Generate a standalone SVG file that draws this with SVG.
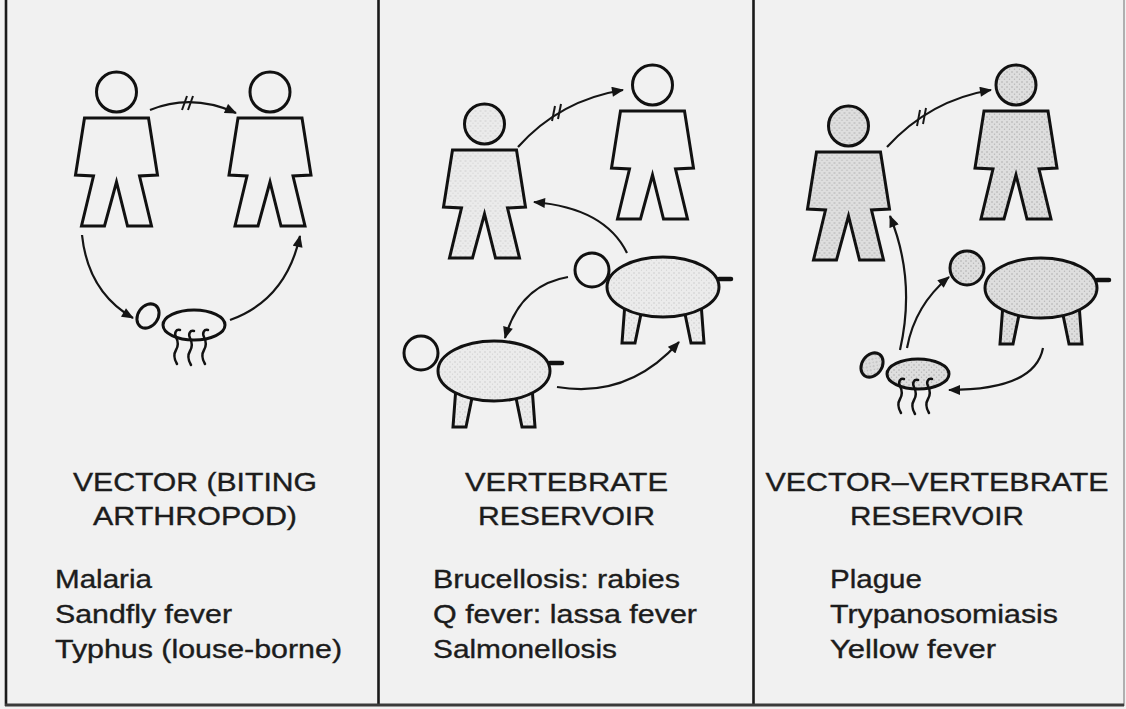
<svg xmlns="http://www.w3.org/2000/svg" xmlns:xlink="http://www.w3.org/1999/xlink" width="1126" height="709" viewBox="0 0 1126 709">
  <defs>
    <style>
      .fig { stroke: #111; stroke-width: 3; stroke-linejoin: miter; }
      .leg { fill: none; stroke: #111; stroke-width: 2.5; stroke-linecap: round; }
      .arrow { fill: none; stroke: #151515; stroke-width: 2.2; marker-end: url(#head); }
      .tick { stroke: #151515; stroke-width: 2; }
      .frame { stroke: #1a1a1a; stroke-width: 2.6; }
      .title { font-family: "Liberation Sans", Arial, Helvetica, sans-serif; font-size: 25px; fill: #1c1c1c; stroke: #1c1c1c; stroke-width: 0.35; text-anchor: middle; }
      .item { font-family: "Liberation Sans", Arial, Helvetica, sans-serif; font-size: 25px; fill: #1c1c1c; stroke: #1c1c1c; stroke-width: 0.35; }
    </style>
    <marker id="head" viewBox="0 0 12 10" refX="11" refY="5" markerWidth="13" markerHeight="10" markerUnits="userSpaceOnUse" orient="auto">
      <path d="M0,0 L12,5 L0,10 Z" fill="#151515"/>
    </marker>
    <!-- light and heavy stipple used for the shaded figures -->
    <pattern id="dotsLight" width="5" height="5" patternUnits="userSpaceOnUse">
      <rect width="5" height="5" fill="#ebebeb"/>
      <circle cx="1" cy="1" r="0.7" fill="#c4c4c4"/>
      <circle cx="3.5" cy="3.2" r="0.6" fill="#d2d2d2"/>
    </pattern>
    <pattern id="dotsHeavy" width="5" height="5" patternUnits="userSpaceOnUse">
      <rect width="5" height="5" fill="#dedede"/>
      <circle cx="1" cy="1" r="0.8" fill="#acacac"/>
      <circle cx="3.5" cy="3.3" r="0.7" fill="#b8b8b8"/>
    </pattern>
    <!-- human silhouette, origin at centre of shoulder line -->
    <g id="person" class="fig">
      <circle cx="0" cy="-26" r="20"/>
      <path d="M-32,0 L32,0 L41,57 L23,58 L35,108 L11,108 L0,64 L-12,108 L-35,108 L-23,58 L-41,57 Z"/>
    </g>
    <!-- four-legged animal body, origin at centre of the body -->
    <g id="animal" class="fig">
      <path d="M-38,16 L-41,56 L-28,56 L-21,22 Z"/>
      <path d="M21,22 L28,56 L41,56 L38,16 Z"/>
      <path d="M56,-8 L68,-8" stroke-width="4.5" stroke-linecap="round"/>
      <ellipse cx="0" cy="0" rx="56" ry="30"/>
    </g>
    <!-- biting arthropod, origin at centre of the body -->
    <g id="bug">
      <ellipse class="fig" cx="0" cy="0" rx="31" ry="15" stroke-width="2.6"/>
      <ellipse class="fig" cx="-46" cy="-9" rx="10" ry="13" stroke-width="2.6" transform="rotate(35 -46 -9)"/>
      <path class="leg" d="M-14,5 c-4,-1 -6,3 -4,7 c2,4 3,8 0,13 c-3,5 -2,9 1,14"/>
      <path class="leg" d="M0,6 c-4,-1 -6,3 -4,7 c2,4 3,8 0,13 c-3,5 -2,9 1,14"/>
      <path class="leg" d="M14,5 c-4,-1 -6,3 -4,7 c2,4 3,8 0,13 c-3,5 -2,9 1,14"/>
    </g>
  </defs>

  <!-- paper -->
  <rect x="0" y="0" width="1126" height="709" fill="#f1f1f1"/>

  <!-- panel frame -->
  <g id="frame">
    <line class="frame" x1="6" y1="0" x2="6" y2="706"/>
    <line class="frame" x1="378.5" y1="0" x2="378.5" y2="706"/>
    <line class="frame" x1="753.5" y1="0" x2="753.5" y2="706"/>
    <line x1="1124" y1="0" x2="1124" y2="706" stroke="#9a9a9a" stroke-width="1.5"/>
    <line x1="5" y1="705" x2="1124" y2="705" stroke="#3a3a3a" stroke-width="3"/>
  </g>

  <!-- panel 1: vector (biting arthropod) -->
  <g id="p1-human-a"><use xlink:href="#person" x="116.5" y="118" fill="#f1f1f1"/></g>
  <g id="p1-human-b"><use xlink:href="#person" x="270" y="118" fill="#f1f1f1"/></g>
  <g id="p1-arthropod"><use xlink:href="#bug" x="194" y="325" fill="#f1f1f1"/></g>

  <!-- panel 2: vertebrate reservoir -->
  <g id="p2-human-a"><use xlink:href="#person" x="484.5" y="150" fill="url(#dotsLight)"/></g>
  <g id="p2-human-b"><use xlink:href="#person" x="652.5" y="111" fill="#f1f1f1"/></g>
  <g id="p2-animal-a">
    <circle class="fig" cx="592" cy="270" r="17" fill="#f1f1f1"/>
    <use xlink:href="#animal" x="663" y="287" fill="url(#dotsLight)"/>
  </g>
  <g id="p2-animal-b">
    <circle class="fig" cx="421" cy="353" r="17" fill="#f1f1f1"/>
    <use xlink:href="#animal" x="494" y="371" fill="url(#dotsLight)"/>
  </g>

  <!-- panel 3: vector-vertebrate reservoir -->
  <g id="p3-human-a"><use xlink:href="#person" x="848.5" y="152" fill="url(#dotsHeavy)"/></g>
  <g id="p3-human-b"><use xlink:href="#person" x="1016" y="111" fill="url(#dotsHeavy)"/></g>
  <g id="p3-animal">
    <circle class="fig" cx="967" cy="268" r="17" fill="url(#dotsHeavy)"/>
    <use xlink:href="#animal" x="1041" y="288" fill="url(#dotsHeavy)"/>
  </g>
  <g id="p3-arthropod"><use xlink:href="#bug" x="918" y="374" fill="url(#dotsHeavy)"/></g>

  <!-- transmission routes -->
  <g id="connectors">
    <path class="arrow" d="M150,110 Q192,93 236,113"/>
    <line class="tick" x1="182" y1="110" x2="187" y2="96"/>
    <line class="tick" x1="188" y1="110" x2="193" y2="96"/>
    <path class="arrow" d="M82,235 Q88,292 133,318"/>
    <path class="arrow" d="M230,320 Q286,300 300,236"/>

    <path class="arrow" d="M518,147 Q560,100 623,90"/>
    <line class="tick" x1="552" y1="121" x2="555" y2="106"/>
    <line class="tick" x1="558" y1="119" x2="561" y2="104"/>
    <path class="arrow" d="M627,253 Q605,208 534,202"/>
    <path class="arrow" d="M568,277 Q520,285 505,338"/>
    <path class="arrow" d="M557,387 Q628,399 679,342"/>

    <path class="arrow" d="M887,147 Q930,100 991,90"/>
    <line class="tick" x1="917" y1="126" x2="920" y2="110"/>
    <line class="tick" x1="923" y1="124" x2="926" y2="108"/>
    <path class="arrow" d="M900,350 Q916,280 890,216"/>
    <path class="arrow" d="M907,348 Q915,305 949,277"/>
    <path class="arrow" d="M1043,348 Q1035,390 949,390"/>
  </g>

  <!-- captions -->
  <g id="labels">
    <text class="title" x="195" y="491" textLength="244" lengthAdjust="spacingAndGlyphs">VECTOR (BITING</text>
    <text class="title" x="195" y="525" textLength="204" lengthAdjust="spacingAndGlyphs">ARTHROPOD)</text>
    <text class="item" x="55" y="588" textLength="97" lengthAdjust="spacingAndGlyphs">Malaria</text>
    <text class="item" x="55" y="623" textLength="177" lengthAdjust="spacingAndGlyphs">Sandfly fever</text>
    <text class="item" x="55" y="658" textLength="287" lengthAdjust="spacingAndGlyphs">Typhus (louse-borne)</text>

    <text class="title" x="566.5" y="491" textLength="203" lengthAdjust="spacingAndGlyphs">VERTEBRATE</text>
    <text class="title" x="566.5" y="525" textLength="177" lengthAdjust="spacingAndGlyphs">RESERVOIR</text>
    <text class="item" x="433" y="588" textLength="247" lengthAdjust="spacingAndGlyphs">Brucellosis: rabies</text>
    <text class="item" x="433" y="623" textLength="264" lengthAdjust="spacingAndGlyphs">Q fever: lassa fever</text>
    <text class="item" x="433" y="658" textLength="184" lengthAdjust="spacingAndGlyphs">Salmonellosis</text>

    <text class="title" x="937" y="491" textLength="343" lengthAdjust="spacingAndGlyphs">VECTOR–VERTEBRATE</text>
    <text class="title" x="937" y="525" textLength="174" lengthAdjust="spacingAndGlyphs">RESERVOIR</text>
    <text class="item" x="830" y="588" textLength="92" lengthAdjust="spacingAndGlyphs">Plague</text>
    <text class="item" x="830" y="623" textLength="228" lengthAdjust="spacingAndGlyphs">Trypanosomiasis</text>
    <text class="item" x="830" y="658" textLength="166" lengthAdjust="spacingAndGlyphs">Yellow fever</text>
  </g>
</svg>
